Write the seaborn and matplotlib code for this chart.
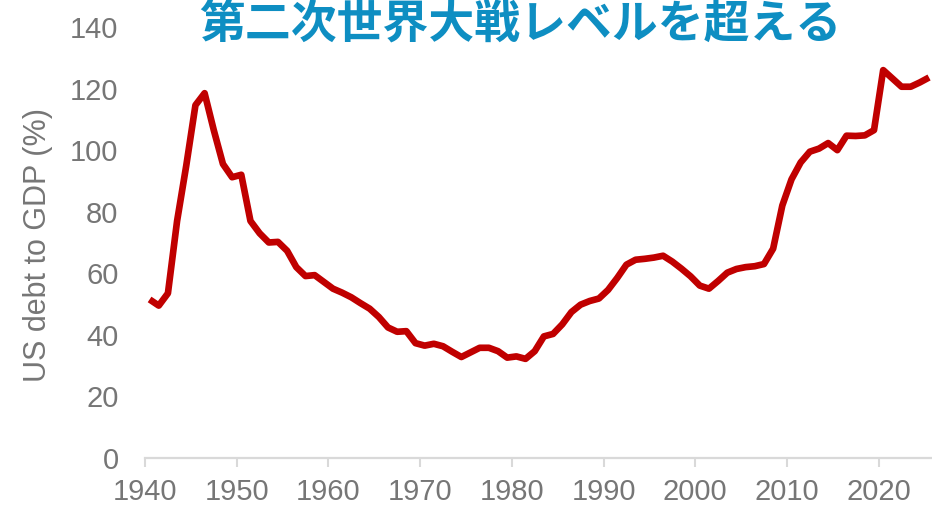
import matplotlib
matplotlib.use("Agg")
import matplotlib.pyplot as plt
import seaborn as sns
import pandas as pd
import numpy as np

# Data (US gross debt to GDP, %)
years = list(range(1940, 2026))
debt_to_gdp = [
    51.5, 49.5, 53.5, 77.0, 95.0, 114.6, 118.5, 106.5, 95.5, 91.2,   # 1940-1949
    92.0, 77.0, 73.0, 70.0, 70.2, 67.3, 62.0, 59.1, 59.4, 57.2,      # 1950-1959
    55.0, 53.7, 52.2, 50.3, 48.5, 45.8, 42.4, 41.0, 41.2, 37.3,      # 1960-1969
    36.5, 37.1, 36.3, 34.5, 32.8, 34.3, 35.8, 35.8, 34.7, 32.6,      # 1970-1979
    33.0, 32.2, 34.7, 39.5, 40.3, 43.4, 47.4, 49.8, 51.0, 51.8,      # 1980-1989
    54.6, 58.5, 62.8, 64.4, 64.7, 65.1, 65.7, 63.8, 61.5, 59.0,      # 1990-1999
    56.0, 55.0, 57.5, 60.2, 61.4, 62.0, 62.3, 63.0, 68.0, 82.0,      # 2000-2009
    90.5, 96.0, 99.5, 100.5, 102.3, 100.0, 104.7, 104.6, 104.8, 106.5,  # 2010-2019
    126.0, 123.3, 120.6, 120.6, 122.0, 123.6,                        # 2020-2025
]
tick_years = [1940, 1950, 1960, 1970, 1980, 1990, 2000, 2010, 2020]
y_ticks = [0, 20, 40, 60, 80, 100, 120, 140]
title_text = "第二次世界大戦レベルを超える"
y_label = "US debt to GDP (%)"

df = pd.DataFrame({"year": years, "debt": debt_to_gdp})
df["x"] = df["year"] + 0.5  # mid-year position

sns.set_style("white")
plt.rcParams["font.family"] = ["Liberation Sans", "DejaVu Sans"]

fig = plt.figure(figsize=(9.32, 5.07), dpi=100)
ax = fig.add_axes([145 / 932, 49 / 507, 787 / 932, 431 / 507])

sns.lineplot(data=df, x="x", y="debt", ax=ax, color="#C00000",
             linewidth=4.8, solid_joinstyle="round", solid_capstyle="butt")

ax.set_xlim(1940, 1940 + 787 / 9.17)
ax.set_ylim(0, 140)
ax.set_xticks(tick_years)
ax.set_xticklabels([str(t) for t in tick_years])
ax.set_yticks(y_ticks)
ax.set_yticklabels([str(t) for t in y_ticks])

grey = "#767676"
for s in ["left", "top", "right"]:
    ax.spines[s].set_visible(False)
ax.spines["bottom"].set_color("#D9D9D9")
ax.spines["bottom"].set_linewidth(1.6)
ax.spines["bottom"].set_clip_on(False)

ax.tick_params(axis="x", direction="out", length=6.5, width=1.5,
               color="#D9D9D9", labelsize=21, labelcolor=grey, pad=8, bottom=True)
ax.tick_params(axis="y", length=0, labelsize=21, labelcolor=grey, pad=19)

ax.set_xlabel("")
ax.set_ylabel(y_label, fontsize=22, color=grey)
ax.yaxis.set_label_coords(-0.117, 0.494)
ax.grid(False)

fig.text(520 / 932, 1 - 25 / 507, title_text, ha="center", va="center",
         fontsize=33, fontweight="bold", color="#0E8EC2",
         family=["Noto Sans CJK JP", "DejaVu Sans"])

fig.savefig("out.png", dpi=100, facecolor="white")
